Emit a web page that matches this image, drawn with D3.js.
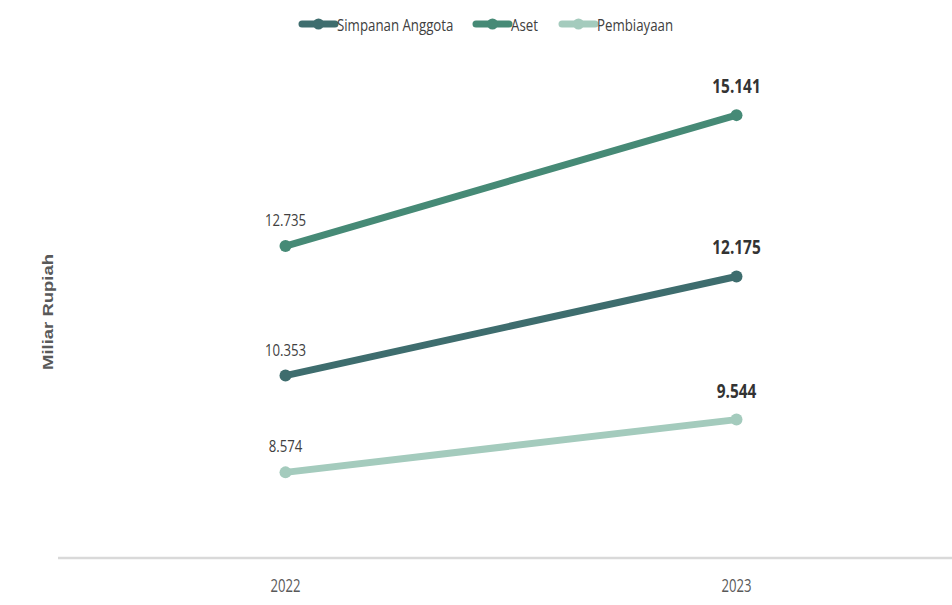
<!DOCTYPE html>
<html><head><meta charset="utf-8">
<script src="https://cdn.jsdelivr.net/npm/d3@7"></script>
<style>
body{margin:0;background:#fff;}
svg{display:block;}
</style></head>
<body><svg id="c" width="952" height="605"></svg>
<script>
const years = ["2022","2023"];
const seriesNames = ["Simpanan Anggota","Aset","Pembiayaan"];
const simpanan = [10.353, 12.175];
const aset = [12.735, 15.141];
const pembiayaan = [8.574, 9.544];
const labelsSimpanan = ["10.353","12.175"];
const labelsAset = ["12.735","15.141"];
const labelsPembiayaan = ["8.574","9.544"];
const colors = ["#3e6d6e","#468a76","#a4cbbd"];

const series = [
  {name: seriesNames[0], values: simpanan, labels: labelsSimpanan, color: colors[0]},
  {name: seriesNames[1], values: aset, labels: labelsAset, color: colors[1]},
  {name: seriesNames[2], values: pembiayaan, labels: labelsPembiayaan, color: colors[2]}
];

const svg = d3.select("#c");
const font = "'Open Sans',sans-serif";
const x = d3.scaleBand().domain(years).range([60, 962]);
const y = d3.scaleLinear().domain([7, 17]).range([558, 14]);

// condense helper: compress text width by ratio (reference font is narrow)
function condense(sel, ratio) {
  sel.each(function() {
    const w = this.getComputedTextLength();
    d3.select(this).attr("textLength", w * ratio).attr("lengthAdjust","spacingAndGlyphs");
  });
}

// axis
const xAxis = d3.axisBottom(x).tickSize(0).tickPadding(0);
const gx = svg.append("g").attr("transform","translate(0,558)").call(xAxis);
gx.select(".domain").attr("stroke","#d9d9d9").attr("stroke-width",2.5).attr("d","M58,0H952");
gx.selectAll("text").attr("dy",null).attr("y",33.5).attr("font-family",font).attr("font-size",19)
  .attr("fill","#595959").call(condense, 0.69);

// y title
svg.append("text").attr("transform","translate(53,312) rotate(-90)")
  .attr("text-anchor","middle").attr("font-family","'Liberation Sans',Arial,sans-serif")
  .attr("font-weight","bold").attr("font-size",14).attr("fill","#595959")
  .attr("textLength",116).attr("lengthAdjust","spacingAndGlyphs").text("Miliar Rupiah");

const cx = d => x(d) + x.bandwidth()/2;
const line = d3.line().x((d,i)=>cx(years[i])).y(d=>y(d));

series.forEach(s => {
  svg.append("path").attr("d", line(s.values)).attr("fill","none")
    .attr("stroke", s.color).attr("stroke-width",7).attr("stroke-linecap","round");
  svg.selectAll(null).data(s.values).enter().append("circle")
    .attr("cx",(d,i)=>cx(years[i])).attr("cy",d=>y(d)).attr("r",6).attr("fill",s.color);
  svg.selectAll(null).data(s.values).enter().append("text")
    .attr("x",(d,i)=>cx(years[i])).attr("y",(d,i)=>y(d) - (i===1?22:20))
    .attr("text-anchor","middle").attr("font-family",font)
    .attr("font-size",(d,i)=>i===1?19.5:16.5).attr("font-weight",(d,i)=>i===1?"bold":"normal")
    .attr("fill",(d,i)=>i===1?"#333333":"#404040")
    .text((d,i)=>s.labels[i])
    .each(function(d,i){ condense(d3.select(this), i===1?0.79:0.8); });
});

// legend
const legX = [302, 476, 562];
series.forEach((s,i) => {
  const g = svg.append("g").attr("transform",`translate(${legX[i]},24)`);
  g.append("line").attr("x1",0).attr("x2",33).attr("y1",0).attr("y2",0)
    .attr("stroke",s.color).attr("stroke-width",7).attr("stroke-linecap","round");
  g.append("circle").attr("cx",16.5).attr("cy",0).attr("r",5.5).attr("fill",s.color);
  g.append("text").attr("x",35).attr("y",6.5).attr("font-family",font)
    .attr("font-size",17).attr("fill","#404040").text(s.name)
    .call(condense, 0.78);
});
</script></body></html>
